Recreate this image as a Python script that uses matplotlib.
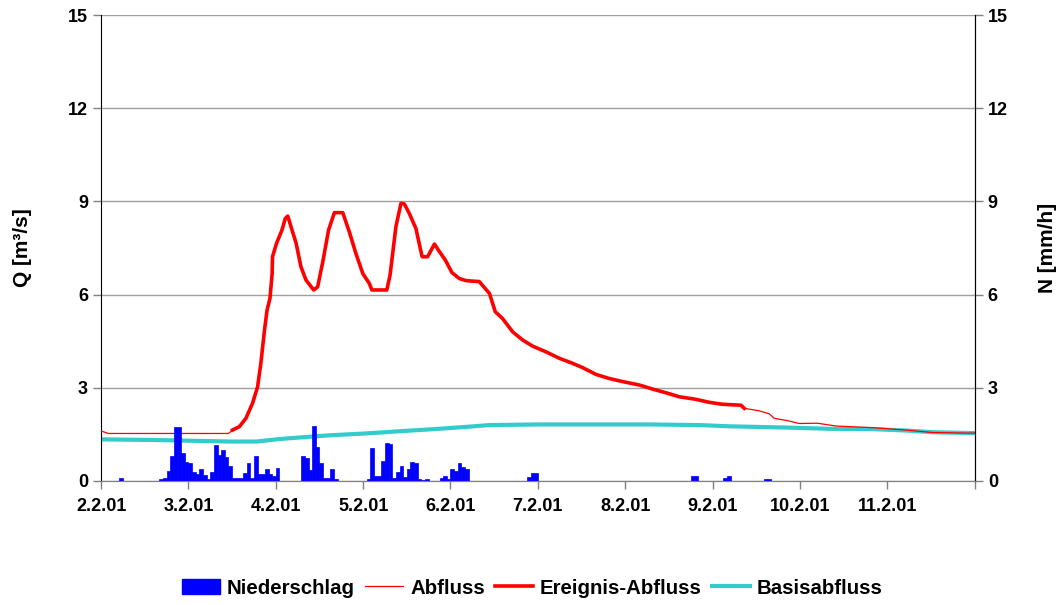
import matplotlib
matplotlib.use("Agg")
import matplotlib.pyplot as plt
import matplotlib.patches as mpatches
from matplotlib.lines import Line2D
import numpy as np

plt.rcParams['font.family'] = ['Liberation Sans', 'DejaVu Sans']
plt.rcParams['font.weight'] = 'bold'

# time axis in hours since 2.2.01 00:00
day_labels = ["2.2.01", "3.2.01", "4.2.01", "5.2.01", "6.2.01",
              "7.2.01", "8.2.01", "9.2.01", "10.2.01", "11.2.01", ""]

# Niederschlag [mm/h], hourly
precip_hours = [5, 16, 17, 18, 19, 20, 21, 22, 23, 24, 25, 26, 27, 28, 29, 30,
                31, 32, 33, 34, 35, 36, 37, 38, 39, 40, 41, 42, 43, 44, 45, 46,
                47, 48, 55, 56, 57, 58, 59, 60, 61, 62, 63, 64, 73, 74, 75, 76,
                77, 78, 79, 80, 81, 82, 83, 84, 85, 86, 87, 88, 89, 93, 94, 95,
                96, 97, 98, 99, 100, 117, 118, 119, 162, 163, 171, 172, 182, 183]
precip_values = [0.1, 0.05, 0.1, 0.33, 0.8, 1.75, 1.75, 0.9, 0.6, 0.58, 0.3, 0.23,
                 0.38, 0.2, 0.05, 0.3, 1.15, 0.85, 1.0, 0.76, 0.47, 0.1, 0.1, 0.1,
                 0.25, 0.57, 0.1, 0.8, 0.23, 0.23, 0.4, 0.23, 0.15, 0.43,
                 0.8, 0.73, 0.36, 1.78, 1.08, 0.59, 0.1, 0.1, 0.39, 0.05,
                 0.05, 1.05, 0.15, 0.15, 0.64, 1.23, 1.2, 0.1, 0.3, 0.48, 0.12,
                 0.4, 0.62, 0.57, 0.05, 0.03, 0.05, 0.1, 0.15, 0.05,
                 0.39, 0.33, 0.57, 0.45, 0.39, 0.12, 0.27, 0.27,
                 0.15, 0.15, 0.1, 0.15, 0.05, 0.05]

# Abfluss [m3/s]
q_hours = [0, 2, 35, 36.1, 38.0, 39.8, 41.6, 43.0, 43.9, 44.9, 45.6, 46.4, 47.0,
           47.1, 48.2, 49.7, 50.6, 51.3, 52.2, 53.6, 54.9, 56.3, 58.4, 59.5,
           60.9, 62.5, 64.1, 66.4, 68.2, 70.0, 71.9, 73.7, 74.4, 78.5, 79.4,
           81.0, 82.4, 83.3, 84.7, 86.5, 88.2, 89.7, 91.6, 92.7, 94.6, 96.4,
           98.4, 100.3, 103.9, 106.7, 108.3, 110.3, 113.1, 115.8, 118.6, 122.2,
           125.9, 129.5, 132.3, 136.0, 139.6, 143.3, 147.9, 151.5, 155.2, 158.9,
           163.4, 167.2, 170.7, 175.8, 176.7, 180.8, 183.6, 184.9, 189.1, 191.8,
           196.8, 201.9, 211.5, 221.1, 228.4, 240]
q_values = [1.61, 1.53, 1.53, 1.64, 1.75, 2.02, 2.5, 3.03, 3.79, 4.86, 5.5, 5.88,
            6.68, 7.22, 7.65, 8.08, 8.45, 8.53, 8.18, 7.65, 6.9, 6.47, 6.15, 6.25,
            7.05, 8.08, 8.64, 8.64, 8.02, 7.33, 6.68, 6.36, 6.15, 6.15, 6.63,
            8.19, 8.94, 8.92, 8.61, 8.13, 7.22, 7.22, 7.63, 7.43, 7.11, 6.71,
            6.52, 6.45, 6.42, 6.04, 5.45, 5.23, 4.8, 4.54, 4.34, 4.16,
            3.95, 3.79, 3.65, 3.43, 3.3, 3.2, 3.09, 2.96, 2.84, 2.71,
            2.63, 2.53, 2.47, 2.44, 2.34, 2.26, 2.16, 2.02, 1.93, 1.85,
            1.86, 1.77, 1.72, 1.64, 1.56, 1.54]

# Ereignis-Abfluss: event window of Abfluss
event_start, event_end = 35.5, 176.7

# Basisabfluss [m3/s]
base_hours = [0, 14.6, 27, 35.2, 42.7, 49, 54.5, 62.7, 72.6, 81.9, 92.9, 101.2,
              106.7, 120.4, 150.6, 164.4, 172.6, 188.2, 200.1, 211.9, 222, 228.4, 240]
base_values = [1.34, 1.32, 1.29, 1.27, 1.27, 1.35, 1.40, 1.47, 1.53, 1.60, 1.68,
               1.75, 1.80, 1.82, 1.82, 1.80, 1.76, 1.72, 1.68, 1.67, 1.62, 1.57, 1.54]

q_h = np.array(q_hours)
q_v = np.array(q_values)
ev_mask = (q_h >= event_start) & (q_h <= event_end)

fig = plt.figure(figsize=(10.64, 6.05), dpi=100)
ax = fig.add_axes([0.095, 0.205, 0.821, 0.770])
ax2 = ax.twinx()

ax.plot(base_hours, base_values, color="#33CCCC", linewidth=3, zorder=2)
ax.plot(q_h, q_v, color="red", linewidth=0.9, zorder=3)
ax.plot(q_h[ev_mask], q_v[ev_mask], color="red", linewidth=2.6, zorder=4)

ax2.bar(precip_hours, precip_values, width=1.0, align="edge",
        color="#0000FF", edgecolor="#0000FF", linewidth=0.5)

for a in (ax, ax2):
    a.set_ylim(0, 15)
    a.set_yticks(np.arange(0, 16, 3))
    a.set_xlim(0, 240)
    a.spines["top"].set_visible(False)
    a.spines["bottom"].set_color("#808080")
    a.tick_params(axis="y", colors="#808080", labelcolor="black",
                  labelsize=13, length=6, width=1)

ax.yaxis.grid(True, color="#A0A0A0", linewidth=1)
ax.set_axisbelow(True)
ax.spines["left"].set_color("black")
ax2.spines["right"].set_color("black")
ax2.spines["left"].set_visible(False)

ax.set_xticks(np.arange(0, 241, 24))
ax.set_xticklabels(day_labels)
ax.tick_params(axis="x", colors="#808080", labelcolor="black",
               labelsize=13, length=6, width=1, pad=6)

ax.set_ylabel("Q [m³/s]", fontsize=15, fontweight="bold")
ax.yaxis.set_label_coords(-0.079, 0.5)
ax2.set_ylabel("N [mm/h]", fontsize=15, fontweight="bold")
ax2.yaxis.set_label_coords(1.073, 0.5)

handles = [
    mpatches.Patch(color="#0000FF", label="Niederschlag"),
    Line2D([0], [0], color="red", linewidth=0.9, label="Abfluss"),
    Line2D([0], [0], color="red", linewidth=2.6, label="Ereignis-Abfluss"),
    Line2D([0], [0], color="#33CCCC", linewidth=3, label="Basisabfluss"),
]
fig.legend(handles=handles, loc="center", bbox_to_anchor=(0.5005, 0.028),
           ncol=4, frameon=False, fontsize=14.7, handlelength=1.85,
           columnspacing=0.5, handletextpad=0.35)

plt.savefig("out.png", dpi=100)
